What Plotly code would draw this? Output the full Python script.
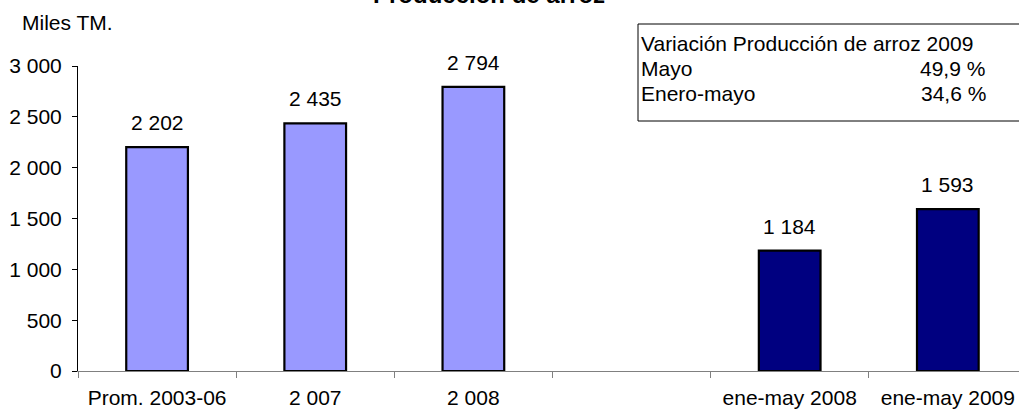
import plotly.graph_objects as go

# Data
categories = ["Prom. 2003-06", "2 007", "2 008", " ", "ene-may 2008", "ene-may 2009"]
annual_cats = ["Prom. 2003-06", "2 007", "2 008"]
annual_vals = [2202, 2435, 2794]
period_cats = ["ene-may 2008", "ene-may 2009"]
period_vals = [1184, 1593]
box_title = "Variación Producción de arroz 2009"
box_rows = ["Mayo", "Enero-mayo"]
box_vals = ["49,9 %", "34,6 %"]

FONT = "Liberation Sans, Arial, sans-serif"
FS = 21

def fmt(v):
    return f"{v:,}".replace(",", " ")

fig = go.Figure()
fig.add_trace(go.Bar(x=annual_cats, y=annual_vals, width=0.39,
                     marker=dict(color="#9999FF", line=dict(color="black", width=2.2))))
fig.add_trace(go.Bar(x=period_cats, y=period_vals, width=0.39,
                     marker=dict(color="#000080", line=dict(color="black", width=2.2))))

annotations = []
for c, v in list(zip(annual_cats, annual_vals)) + list(zip(period_cats, period_vals)):
    annotations.append(dict(x=c, y=v, xref="x", yref="y", text=fmt(v), showarrow=False,
                            yanchor="bottom", yshift=11, font=dict(size=FS, color="black")))

# Title (cut off at top)
annotations.append(dict(x=(489 - 78) / 941, y=(371 + 6) / 305, xref="paper", yref="paper",
                        text="<b>Producción de arroz</b>", showarrow=False,
                        xanchor="center", yanchor="middle", font=dict(size=24, color="black")))
# Units
annotations.append(dict(x=(20 - 78) / 941, y=(371 - 22) / 305, xref="paper", yref="paper",
                        text="Miles TM.", showarrow=False, xanchor="left", yanchor="middle",
                        font=dict(size=FS, color="black")))
# Box text
annotations.append(dict(x=(639 - 78) / 941, y=(371 - 43) / 305, xref="paper", yref="paper",
                        text=box_title, showarrow=False, xanchor="left", yanchor="middle",
                        font=dict(size=FS, color="black")))
row_y = [68, 93]
row_right = [987, 988]
for lbl, val, yy, rr in zip(box_rows, box_vals, row_y, row_right):
    annotations.append(dict(x=(639 - 78) / 941, y=(371 - yy) / 305, xref="paper", yref="paper",
                            text=lbl, showarrow=False, xanchor="left", yanchor="middle",
                            font=dict(size=FS, color="black")))
    annotations.append(dict(x=(rr - 78) / 941, y=(371 - yy) / 305, xref="paper", yref="paper",
                            text=val, showarrow=False, xanchor="right", yanchor="middle",
                            font=dict(size=FS, color="black")))

fig.update_layout(
    width=1019, height=413,
    margin=dict(l=78, r=0, t=66, b=42, autoexpand=False),
    paper_bgcolor="white", plot_bgcolor="white",
    font=dict(family=FONT, size=FS, color="black"),
    barmode="overlay",
    showlegend=False,
    separators=", ",
    annotations=annotations,
    shapes=[dict(type="rect", xref="paper", yref="paper",
                 x0=(638 - 78) / 941, x1=1.03, y0=(371 - 121) / 305, y1=(371 - 24) / 305,
                 line=dict(color="black", width=1), fillcolor="white", layer="above")],
)
fig.update_xaxes(type="category", categoryorder="array", categoryarray=categories,
                 range=[-0.5, 5.45], showline=True, linecolor="#808080", linewidth=1,
                 ticks="outside", tickson="boundaries", ticklen=6, tickcolor="#808080",
                 showgrid=False, zeroline=False, tickfont=dict(size=FS), automargin=False,
                 ticklabelstandoff=8)
fig.update_yaxes(range=[0, 3000], tickvals=[0, 500, 1000, 1500, 2000, 2500, 3000],
                 separatethousands=True, showline=True, linecolor="black", linewidth=1,
                 ticks="outside", ticklen=5, tickcolor="black", showgrid=False,
                 zeroline=False, tickfont=dict(size=FS), ticklabelstandoff=6, automargin=False)

fig.write_html("out.html", config={"displayModeBar": False},
               post_script="document.body.style.margin='0';document.body.style.overflow='hidden';")
